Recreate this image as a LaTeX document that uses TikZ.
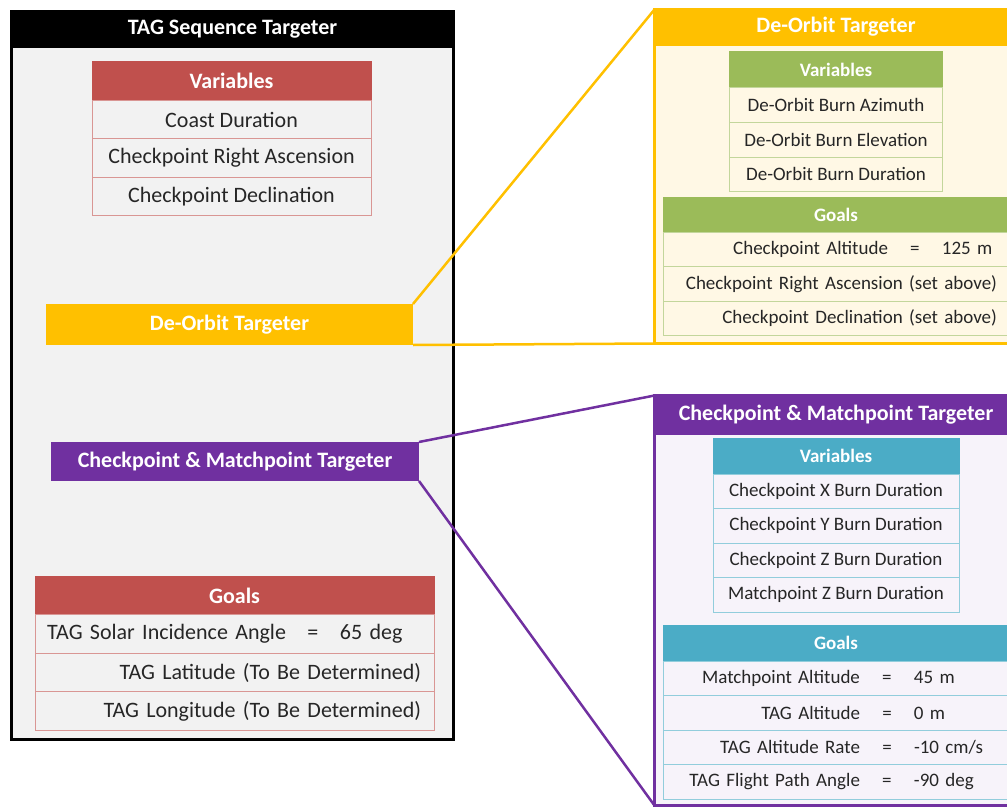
\documentclass[tikz,border=0pt]{standalone}
\usepackage{fontspec}
\setmainfont{Carlito}
\usetikzlibrary{positioning}
\definecolor{seqgray}{RGB}{242,242,242}
\definecolor{varred}{RGB}{192,80,77}
\definecolor{varredlt}{RGB}{217,150,148}
\definecolor{dogold}{RGB}{255,192,0}
\definecolor{docream}{RGB}{255,248,229}
\definecolor{vargreen}{RGB}{155,187,89}
\definecolor{vargreenlt}{RGB}{195,214,155}
\definecolor{cmpurple}{RGB}{112,48,160}
\definecolor{cmlavender}{RGB}{247,243,250}
\definecolor{varblue}{RGB}{75,172,198}
\definecolor{varbluelt}{RGB}{146,205,220}
\definecolor{txtdark}{RGB}{38,38,38}
\newcommand{\seqfont}{\fontsize{22}{26}\selectfont}
\newcommand{\subfont}{\fontsize{19}{23}\selectfont}
% label = value, the = sign sits in a fixed slot
\newcommand{\goaleq}[3]{\makebox[#1][r]{#2}\makebox[54pt]{=}#3}
\tikzset{
  panel/.style={line width=3pt, outer sep=0pt, inner sep=0pt},
  bar/.style={text=white, font=\bfseries\seqfont, outer sep=0pt, inner sep=0pt},
  cell/.style={line width=1pt, outer sep=0pt, inner sep=0pt, text=txtdark},
  redhead/.style={cell, fill=varred, draw=varred, text=white, font=\bfseries\seqfont, minimum height=38.5pt},
  redrow/.style={cell, fill=seqgray, draw=varredlt, font=\seqfont, minimum height=38.5pt},
  greenhead/.style={cell, fill=vargreen, draw=vargreen, text=white, font=\bfseries\subfont, minimum height=35pt},
  greenrow/.style={cell, fill=docream, draw=vargreenlt, font=\subfont, minimum height=34.5pt},
  bluehead/.style={cell, fill=varblue, draw=varblue, text=white, font=\bfseries\subfont, minimum height=36pt},
  bluerow/.style={cell, fill=cmlavender, draw=varbluelt, font=\subfont, minimum height=34.5pt},
  link/.style={line width=2.5pt},
}
\begin{document}
\begin{tikzpicture}[x=1pt, y=1pt]
\useasboundingbox (0,0) rectangle (1007,-808);
\clip (0,0) rectangle (1007,-808);
% TAG sequence panel
\node[panel, draw=black, fill=seqgray, minimum width=442pt, minimum height=728pt] (seq) at (232.5,-375.5) {};
\node[bar, fill=black, minimum width=445pt, minimum height=38pt, anchor=north] (seqhead) at ([yshift=1.5pt]seq.north) {TAG Sequence Targeter};
% sequence variables
\node[redhead, minimum width=279pt] (lvar0) at (231.5,-81) {Variables};
\node[redrow, minimum width=279pt, below=0pt of lvar0] (lvar1) {Coast Duration};
\node[redrow, minimum width=279pt, below=0pt of lvar1] (lvar2) {Checkpoint Right Ascension};
\node[redrow, minimum width=279pt, below=0pt of lvar2] (lvar3) {Checkpoint Declination};
% nested targeters
\node[bar, fill=dogold, minimum width=367pt, minimum height=41pt] (dobox) at (229.5,-324.5) {De-Orbit Targeter};
\node[bar, fill=cmpurple, minimum width=368pt, minimum height=39pt] (cmbox) at (235,-461.5) {Checkpoint \& Matchpoint Targeter};
% sequence goals
\node[redhead, minimum width=399pt] (lgoal0) at (234.5,-595.5) {Goals};
\node[redrow, minimum width=399pt, text width=399pt, align=left, below=0pt of lgoal0] (lgoal1) {\goaleq{251pt}{TAG Solar Incidence Angle}{65 deg}};
\node[redrow, minimum width=399pt, text width=373pt, align=right, below=0pt of lgoal1] (lgoal2) {TAG Latitude (To Be Determined)};
\node[redrow, minimum width=399pt, text width=373pt, align=right, below=0pt of lgoal2] (lgoal3) {TAG Longitude (To Be Determined)};

% De-Orbit targeter panel
\node[panel, draw=dogold, fill=docream, minimum width=363pt, minimum height=334pt] (dopanel) at (836,-176.5) {};
\node[bar, fill=dogold, minimum width=366pt, minimum height=38pt, anchor=north] (dohead) at ([yshift=1.5pt]dopanel.north) {De-Orbit Targeter};
\node[greenhead, minimum width=213pt, minimum height=36pt] (gvar0) at (836,-70) {Variables};
\node[greenrow, minimum width=213pt, below=0pt of gvar0] (gvar1) {De-Orbit Burn Azimuth};
\node[greenrow, minimum width=213pt, below=0pt of gvar1] (gvar2) {De-Orbit Burn Elevation};
\node[greenrow, minimum width=213pt, below=0pt of gvar2] (gvar3) {De-Orbit Burn Duration};
\node[greenhead, minimum width=346pt] (ggoal0) at (836,-214.5) {Goals};
\node[greenrow, minimum width=346pt, text width=346pt, align=left, below=0pt of ggoal0] (ggoal1) {\goaleq{225pt}{Checkpoint Altitude}{125 m}};
\node[greenrow, minimum width=346pt, text width=322pt, align=right, below=0pt of ggoal1] (ggoal2) {Checkpoint Right Ascension (set above)};
\node[greenrow, minimum width=346pt, text width=322pt, align=right, below=0pt of ggoal2] (ggoal3) {Checkpoint Declination (set above)};

% Checkpoint & Matchpoint targeter panel
\node[panel, draw=cmpurple, fill=cmlavender, minimum width=363pt, minimum height=410pt] (cmpanel) at (836,-600.5) {};
\node[bar, fill=cmpurple, minimum width=366pt, minimum height=41pt, anchor=north] (cmhead) at ([yshift=1.5pt]cmpanel.north) {Checkpoint \& Matchpoint Targeter};
\node[bluehead, minimum width=246pt] (bvar0) at (836,-456) {Variables};
\node[bluerow, minimum width=246pt, below=0pt of bvar0] (bvar1) {Checkpoint X Burn Duration};
\node[bluerow, minimum width=246pt, below=0pt of bvar1] (bvar2) {Checkpoint Y Burn Duration};
\node[bluerow, minimum width=246pt, below=0pt of bvar2] (bvar3) {Checkpoint Z Burn Duration};
\node[bluerow, minimum width=246pt, below=0pt of bvar3] (bvar4) {Matchpoint Z Burn Duration};
\node[bluehead, minimum width=346pt] (bgoal0) at (836,-643) {Goals};
\node[bluerow, minimum width=346pt, text width=346pt, align=left, below=0pt of bgoal0] (bgoal1) {\goaleq{197pt}{Matchpoint Altitude}{45 m}};
\node[bluerow, minimum width=346pt, text width=346pt, align=left, below=0pt of bgoal1] (bgoal2) {\goaleq{197pt}{TAG Altitude}{0 m}};
\node[bluerow, minimum width=346pt, text width=346pt, align=left, below=0pt of bgoal2] (bgoal3) {\goaleq{197pt}{TAG Altitude Rate}{-10 cm/s}};
\node[bluerow, minimum width=346pt, text width=346pt, align=left, below=0pt of bgoal3] (bgoal4) {\goaleq{197pt}{TAG Flight Path Angle}{-90 deg}};

% callout lines
\draw[link, dogold] (dobox.north east) -- (dopanel.north west);
\draw[link, dogold] (dobox.south east) -- (dopanel.south west);
\draw[link, cmpurple] (cmbox.north east) -- (cmpanel.north west);
\draw[link, cmpurple] (cmbox.south east) -- (cmpanel.south west);
\end{tikzpicture}
\end{document}
